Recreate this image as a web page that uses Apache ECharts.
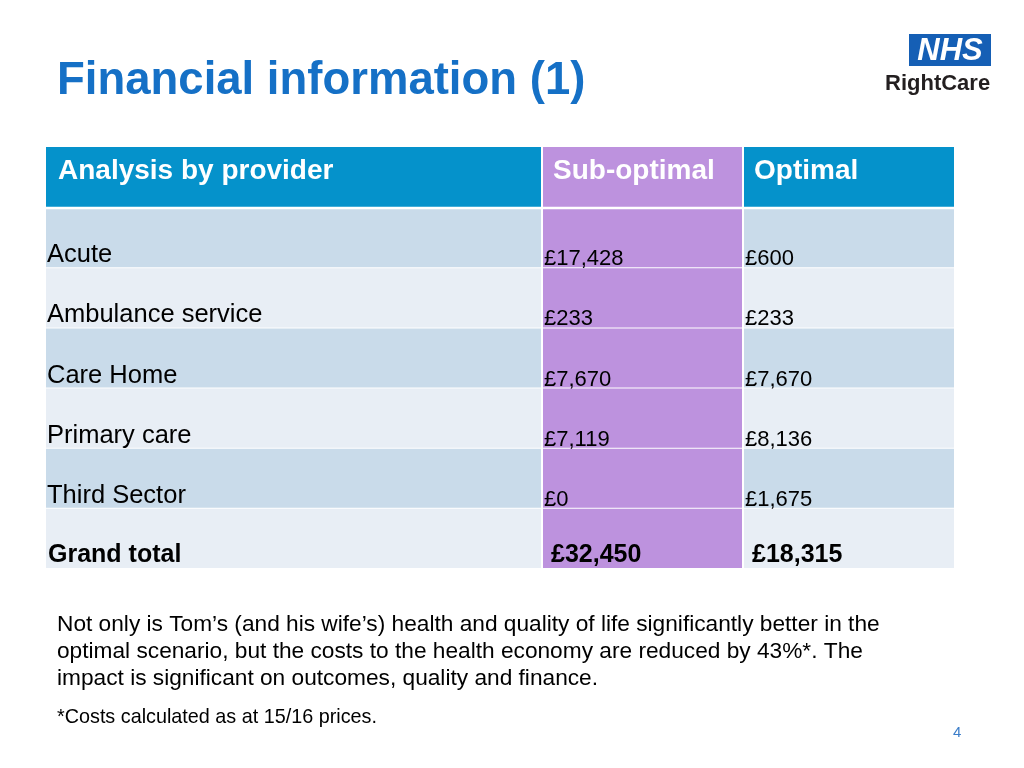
<!DOCTYPE html>
<html>
<head>
<meta charset="utf-8">
<style>
  html, body { margin: 0; padding: 0; background: #ffffff; }
  #chart { width: 1024px; height: 768px; }
</style>
<script src="https://cdn.jsdelivr.net/npm/echarts@6/dist/echarts.min.js"></script>
</head>
<body>
<div id="chart"></div>
<script>
// ---- data ----
const headers = ['Analysis by provider', 'Sub-optimal', 'Optimal'];
const providers = ['Acute', 'Ambulance service', 'Care Home', 'Primary care', 'Third Sector'];
const subOptimal = [17428, 233, 7670, 7119, 0];
const optimal = [600, 233, 7670, 8136, 1675];
const totalLabel = 'Grand total';
const totals = [32450, 18315];

// ---- layout / style constants ----
const FONT = '"Liberation Sans", Arial, Helvetica, sans-serif';
const colEdges = [0, 496, 697, 908];          // x-axis units (table columns)
const BLUE = '#0592CB', PURPLE = '#BD92DE', ROW_A = '#C9DBEA', ROW_B = '#E8EEF5';

function gbp(v) {
  const s = String(Math.round(v)).replace(/\B(?=(\d{3})+(?!\d))/g, ',');
  return '£' + s;
}

const rowCats = ['header'].concat(providers, [totalLabel]);
const cells = [];
for (let r = 0; r < rowCats.length; r++) {
  for (let c = 0; c < 3; c++) cells.push([c, r]);
}

function cellText(c, r) {
  if (r === 0) return headers[c];
  if (r === rowCats.length - 1) return c === 0 ? totalLabel : gbp(totals[c - 1]);
  if (c === 0) return providers[r - 1];
  return gbp(c === 1 ? subOptimal[r - 1] : optimal[r - 1]);
}

function renderItem(params, api) {
  const c = api.value(0), r = api.value(1);
  const yc = api.coord([0, r])[1];
  const bh = api.size([0, 1])[1];
  let top = yc - bh / 2, bottom = yc + bh / 2;
  const xa = api.coord([colEdges[c], r])[0];
  const xb = api.coord([colEdges[c + 1], r])[0];
  const left = xa + (c > 0 ? 1 : 0);
  const right = xb - (c < 2 ? 1 : 0);
  if (r === 0) bottom -= 0.5; else if (r === 1) top += 2; else top += 1;
  let fill;
  if (c === 1) fill = PURPLE;
  else if (r === 0) fill = BLUE;
  else fill = (r % 2 === 1) ? ROW_A : ROW_B;

  const last = rowCats.length - 1;
  const txt = cellText(c, r);
  let textStyle;
  if (r === 0) {
    textStyle = {
      x: left + (c === 0 ? 12 : 10), y: yc - 6, text: txt,
      fill: '#ffffff', font: 'bold 28px ' + FONT, verticalAlign: 'middle', align: 'left'
    };
  } else if (r === last) {
    textStyle = {
      x: left + (c === 0 ? 2 : 8), y: bottom, text: txt,
      fill: '#000000', font: 'bold 25px ' + FONT, verticalAlign: 'bottom', align: 'left'
    };
  } else {
    textStyle = {
      x: left + 1, y: bottom + (c === 0 ? 1 : 3), text: txt,
      fill: '#000000', font: (c === 0 ? 25.5 : 22) + 'px ' + FONT, verticalAlign: 'bottom', align: 'left'
    };
  }
  return {
    type: 'group',
    children: [
      { type: 'rect', shape: { x: left, y: top, width: right - left, height: bottom - top }, style: { fill: fill } },
      { type: 'text', style: textStyle }
    ]
  };
}

const chart = echarts.init(document.getElementById('chart'), null, { renderer: 'canvas' });
chart.setOption({
  backgroundColor: '#ffffff',
  animation: false,
  grid: { left: 46, top: 147, width: 908, height: 421, containLabel: false },
  xAxis: { type: 'value', min: 0, max: 908, show: false },
  yAxis: { type: 'category', data: rowCats, inverse: true, show: false },
  series: [{
    type: 'custom',
    renderItem: renderItem,
    data: cells,
    encode: { x: 0, y: 1 },
    silent: true
  }],
  graphic: [
    { type: 'text', style: { x: 57, y: 81, text: 'Financial information (1)', font: 'bold 45.5px ' + FONT, fill: '#1570C6', verticalAlign: 'middle' } },
    { type: 'rect', shape: { x: 909, y: 34, width: 82, height: 32 }, style: { fill: '#155FB5' } },
    { type: 'text', style: { x: 950, y: 51, text: 'NHS', font: 'italic bold 31px ' + FONT, fill: '#ffffff', align: 'center', verticalAlign: 'middle' } },
    { type: 'text', style: { x: 885, y: 84, text: 'RightCare', font: 'bold 22px ' + FONT, fill: '#231F20', align: 'left', verticalAlign: 'middle' } },
    { type: 'text', style: { x: 57, y: 625, text: 'Not only is Tom’s (and his wife’s) health and quality of life significantly better in the', font: '22.7px ' + FONT, fill: '#000000', verticalAlign: 'middle' } },
    { type: 'text', style: { x: 57, y: 652, text: 'optimal scenario, but the costs to the health economy are reduced by 43%*. The', font: '22.7px ' + FONT, fill: '#000000', verticalAlign: 'middle' } },
    { type: 'text', style: { x: 57, y: 679, text: 'impact is significant on outcomes, quality and finance.', font: '22.7px ' + FONT, fill: '#000000', verticalAlign: 'middle' } },
    { type: 'text', style: { x: 57, y: 718, text: '*Costs calculated as at 15/16 prices.', font: '19.8px ' + FONT, fill: '#000000', verticalAlign: 'middle' } },
    { type: 'text', style: { x: 953, y: 733, text: '4', font: '15px ' + FONT, fill: '#3B7DC9', verticalAlign: 'middle' } }
  ]
});
</script>
</body>
</html>
